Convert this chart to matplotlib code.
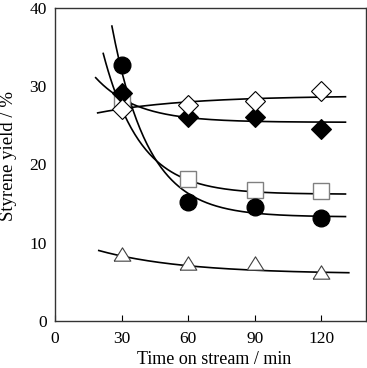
import numpy as np
import matplotlib
matplotlib.use('Agg')
import matplotlib.pyplot as plt

plt.rcParams['font.family'] = ['Liberation Serif', 'DejaVu Serif']
plt.rcParams['font.size'] = 12.5

# measured points
time = [30, 60, 90, 120]
circle_yield = [32.7, 15.2, 14.6, 13.2]
square_yield = [28.4, 18.2, 16.7, 16.6]
fdiamond_yield = [29.2, 26.1, 26.1, 24.6]
odiamond_yield = [27.1, 27.6, 28.1, 29.4]
triangle_yield = [8.6, 7.4, 7.4, 6.3]

# fitted curves: y = plateau + amp * exp(-rate * (t - t_start)), drawn from t_start to t_end
circle_fit = [13.3, 24.4, 0.061, 25.6, 130.8]
square_fit = [16.2, 18.0, 0.060, 21.7, 130.8]
fdiamond_fit = [25.4, 5.7, 0.054, 18.3, 130.8]
odiamond_fit = [28.8, -2.2, 0.025, 19.2, 130.8]
triangle_fit = [6.0, 3.0, 0.026, 19.7, 132.3]


def fit_curve(params):
    plateau, amp, rate, t0, t1 = params
    t = np.linspace(t0, t1, 200)
    return t, plateau + amp * np.exp(-rate * (t - t0))


# slightly flattened triangle like the original
tri = [(-1, -0.8), (1, -0.8), (0, 0.8), (-1, -0.8)]

fig = plt.figure(figsize=(3.67, 3.68), dpi=100)
ax = fig.add_axes([0.150, 0.128, 0.847, 0.850])

for p in [circle_fit, square_fit, fdiamond_fit, odiamond_fit, triangle_fit]:
    t, y = fit_curve(p)
    ax.plot(t, y, color='black', lw=1.2, zorder=2)

ax.plot(time, square_yield, 's', ms=11.3, mfc='white', mec='#808080', mew=1.0, zorder=3)
ax.plot(time, fdiamond_yield, 'D', ms=10, mfc='black', mec='black', mew=0.8, zorder=4)
ax.plot(time, odiamond_yield, 'D', ms=10, mfc='white', mec='black', mew=0.8, zorder=4)
ax.plot(time, circle_yield, 'o', ms=12, mfc='black', mec='black', zorder=5)
ax.plot(time, triangle_yield, marker=tri, ls='none', ms=12, mfc='white', mec='#404040', mew=0.8, zorder=3)

ax.set_xlim(0, 140)
ax.set_ylim(0, 40)
ax.set_xticks([0, 30, 60, 90, 120])
ax.set_yticks([0, 10, 20, 30, 40])
ax.tick_params(axis='x', direction='in', length=4, width=0.8, pad=7)
ax.tick_params(axis='y', length=0, pad=6)
for s in ax.spines.values():
    s.set_linewidth(1.0)
    s.set_color('#333333')

ax.set_xlabel('Time on stream / min', fontsize=13)
ax.set_ylabel('Styrene yield / %', fontsize=13.5)
ax.xaxis.set_label_coords(0.511, -0.097)
ax.yaxis.set_label_coords(-0.122, 0.527)

fig.savefig('out.png', dpi=100)
